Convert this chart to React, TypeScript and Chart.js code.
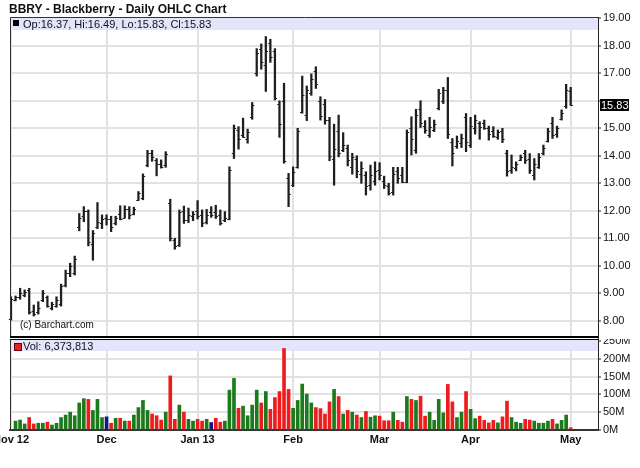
import React, { useEffect, useRef } from "react";
import { Chart, registerables } from "chart.js";

Chart.register(...registerables);

// ---- Data (BBRY daily, Nov 2012 – May 1 2013) ----
const monthLabels = ["Nov 12", "Dec", "Jan 13", "Feb", "Mar", "Apr", "May"];
const monthStartIdx = [0, 21, 41, 62, 81, 101, 123];

const opens = [
  8.05, 8.75, 8.85, 8.95, 9.1, 8.35, 8.3, 8.75, 8.85, 8.45, 8.55, 8.6, 9.3, 9.75, 9.75, 11.4, 11.8, 12.0, 10.8, 11.4,
  11.55, 11.75, 11.7, 11.55, 11.9, 11.75, 12.05, 11.9, 12.4, 12.45, 13.65, 14.1, 13.85, 13.7, 13.65, 12.3, 10.95, 10.75, 12.0, 11.65,
  11.8, 12.0, 11.85, 11.6, 11.95, 11.95, 11.85, 11.65, 11.7, 14.1, 14.95, 14.75, 14.6, 15.4, 17.0, 17.9, 17.3, 18.1, 17.8, 15.9,
  16.0, 13.2, 12.95, 13.6, 15.6, 15.5, 16.3, 17.1, 16.0, 15.9, 15.3, 13.9, 14.9, 14.2, 14.3, 13.6, 13.9, 13.35, 13.3, 12.95,
  13.1, 13.5, 13.1, 12.9, 12.7, 13.45, 13.3, 13.05, 15.0, 14.2, 15.7, 15.1, 14.75, 14.95, 15.75, 16.0, 16.4, 14.5, 14.35, 14.45,
  15.4, 14.4, 15.0, 15.2, 15.2, 15.0, 14.9, 14.7, 14.9, 14.1, 13.5, 13.55, 13.85, 14.1, 13.9, 13.3, 13.6, 14.1, 14.55, 15.2,
  14.8, 15.35, 15.8, 16.37,
];
const highs = [
  8.87, 8.9, 9.18, 9.12, 9.18, 8.57, 8.69, 9.1, 8.9, 8.67, 8.87, 9.33, 9.84, 10.09, 10.35, 11.9, 12.15, 12.03, 11.28, 12.3,
  11.85, 11.85, 11.8, 11.8, 12.18, 12.18, 12.15, 12.13, 12.7, 13.34, 14.2, 14.2, 13.9, 13.85, 14.15, 12.42, 11.0, 12.03, 12.17, 12.1,
  11.97, 12.37, 12.03, 12.05, 12.15, 12.2, 12.03, 11.97, 13.6, 15.12, 15.06, 15.37, 14.97, 15.94, 17.9, 18.07, 18.34, 18.24, 17.9, 16.0,
  16.64, 13.36, 13.6, 15.0, 16.9, 16.54, 16.98, 17.24, 16.15, 16.05, 15.4, 15.15, 15.48, 14.84, 14.39, 14.09, 14.0, 13.78, 13.42, 13.66,
  13.78, 13.75, 13.26, 13.0, 13.58, 13.58, 13.58, 14.94, 15.42, 15.69, 16.0, 15.28, 15.4, 15.3, 16.42, 16.49, 16.85, 14.63, 14.72, 14.79,
  15.54, 15.4, 15.48, 15.24, 15.3, 15.08, 15.06, 14.94, 15.0, 14.2, 14.03, 13.78, 14.03, 14.2, 14.08, 13.9, 14.08, 14.39, 15.0, 15.4,
  15.08, 15.67, 16.6, 16.49,
];
const lows = [
  8.02, 8.72, 8.78, 8.87, 8.24, 8.17, 8.24, 8.69, 8.49, 8.39, 8.49, 8.53, 9.23, 9.6, 9.66, 11.27, 11.6, 10.72, 10.2, 11.35,
  11.35, 11.48, 11.24, 11.48, 11.67, 11.73, 11.7, 11.85, 12.37, 12.4, 13.6, 13.8, 13.27, 13.55, 13.58, 10.9, 10.6, 10.7, 11.54, 11.57,
  11.64, 11.7, 11.42, 11.52, 11.76, 11.72, 11.48, 11.6, 11.67, 13.9, 14.24, 14.67, 14.46, 15.33, 16.9, 17.15, 16.34, 17.4, 16.03, 14.67,
  13.73, 12.15, 12.88, 13.55, 15.55, 15.28, 16.2, 16.45, 15.3, 15.15, 13.82, 12.93, 13.96, 14.15, 13.63, 13.33, 13.2, 13.0, 12.57, 12.75,
  12.93, 13.12, 12.81, 12.57, 12.57, 13.0, 13.02, 13.02, 14.03, 14.09, 15.03, 14.82, 14.67, 14.88, 15.67, 15.9, 14.63, 13.63, 14.27, 14.3,
  14.15, 14.3, 14.79, 14.6, 14.96, 14.57, 14.67, 14.6, 14.48, 13.26, 13.36, 13.45, 13.82, 13.72, 13.36, 13.12, 13.54, 14.03, 14.5, 14.63,
  14.67, 15.3, 15.73, 15.83,
];
const closes = [
  8.8, 8.85, 9.0, 9.05, 8.3, 8.25, 8.45, 9.0, 8.55, 8.6, 8.75, 9.25, 9.75, 10.0, 10.25, 11.75, 12.0, 10.85, 11.2, 11.6,
  11.7, 11.7, 11.4, 11.75, 11.7, 12.05, 11.85, 12.05, 12.65, 13.25, 14.1, 13.95, 13.7, 13.6, 14.05, 11.0, 10.7, 11.95, 11.65, 11.85,
  11.9, 11.8, 11.55, 11.85, 11.85, 11.8, 11.55, 11.75, 13.5, 15.0, 14.6, 14.7, 14.85, 15.85, 17.75, 17.4, 17.8, 17.6, 16.1, 15.15,
  13.8, 12.6, 13.4, 14.9, 16.2, 16.4, 16.8, 16.6, 15.45, 15.3, 14.0, 14.25, 14.1, 14.4, 13.85, 13.95, 13.45, 13.55, 12.9, 13.3,
  13.45, 13.3, 12.95, 12.65, 13.35, 13.2, 13.05, 14.85, 14.6, 15.5, 15.2, 14.95, 15.05, 15.15, 16.3, 16.4, 14.8, 14.1, 14.55, 14.65,
  14.5, 15.1, 15.3, 15.05, 15.0, 14.8, 14.72, 14.85, 14.6, 13.45, 13.6, 13.7, 13.95, 13.85, 13.5, 13.7, 13.95, 14.3, 14.9, 14.75,
  15.0, 15.55, 16.4, 15.83,
];
// volume in millions of shares (first day's bar is not visible in the picture)
const volumes = [
  0, 25, 28, 17, 35, 17, 19, 19, 22, 14, 19, 35, 42, 50, 40, 76, 88, 86, 55, 86,
  35, 37, 19, 33, 33, 25, 25, 42, 63, 83, 55, 45, 40, 28, 50, 152, 30, 70, 50, 30,
  25, 30, 25, 30, 21, 33, 22, 25, 112, 145, 61, 67, 40, 70, 112, 76, 108, 58, 91, 108,
  229, 114, 61, 83, 129, 101, 76, 63, 60, 45, 79, 114, 94, 45, 55, 50, 42, 35, 52, 36,
  40, 39, 26, 26, 50, 27, 22, 94, 86, 83, 95, 39, 50, 27, 86, 48, 128, 79, 35, 50,
  108, 58, 32, 39, 27, 20, 27, 20, 37, 81, 35, 22, 19, 30, 28, 25, 19, 19, 25, 30,
  17, 27, 42, 6.373813,
];
const priceTicks = [8, 9, 10, 11, 12, 13, 14, 15, 16, 17, 18, 19];
const volTicks = [0, 50, 100, 150, 200, 250];

const FONT = "'Liberation Sans', Arial, Helvetica, sans-serif";
const GRID = "#e2e2e2";
const BAND = "#e4e4fa";
const last = closes.length - 1;
const volText = "Vol: " + Math.round(volumes[last] * 1e6).toLocaleString("en-US");
const ohlcText = `Op:${opens[last].toFixed(2)}, Hi:${highs[last].toFixed(2)}, Lo:${lows[last].toFixed(2)}, Cl:${closes[last].toFixed(2)}`;

const volColor = (i: number) => {
  if (i === 0 || closes[i] > closes[i - 1]) return "#1c7a1c";
  if (closes[i] < closes[i - 1]) return "#ee1c1c";
  return "#15157f";
};

const monthTicks = (s: any) => {
  s.ticks = monthStartIdx.map((v) => ({ value: v }));
};

const pricePlugin = {
  id: "pricePanel",
  beforeDatasetsDraw(chart: any) {
    const { ctx, chartArea: a } = chart;
    ctx.save();
    ctx.fillStyle = BAND;
    ctx.fillRect(a.left, a.top, a.right - a.left, 13);
    ctx.restore();
  },
  afterDatasetsDraw(chart: any) {
    const { ctx, chartArea: a } = chart;
    const x = chart.scales.x;
    const y = chart.scales.y;
    ctx.save();
    ctx.strokeStyle = "#1e1e1e";
    ctx.lineWidth = 1;
    for (let i = 0; i < closes.length; i++) {
      const px = x.getPixelForValue(i);
      const yo = Math.round(y.getPixelForValue(opens[i])) + 0.5;
      const yc = Math.round(y.getPixelForValue(closes[i])) + 0.5;
      ctx.beginPath();
      ctx.moveTo(px - 2.2, yo);
      ctx.lineTo(px, yo);
      ctx.moveTo(px, yc);
      ctx.lineTo(px + 2.2, yc);
      ctx.stroke();
    }
    // panel border
    ctx.strokeStyle = "#333";
    ctx.lineWidth = 1;
    ctx.beginPath();
    ctx.moveTo(a.left + 0.5, a.bottom);
    ctx.lineTo(a.left + 0.5, a.top + 0.5);
    ctx.lineTo(a.right, a.top + 0.5);
    ctx.stroke();
    ctx.strokeStyle = "#000";
    ctx.lineWidth = 2;
    ctx.beginPath();
    ctx.moveTo(a.left, a.bottom - 1);
    ctx.lineTo(a.right, a.bottom - 1);
    ctx.stroke();
    ctx.restore();
  },
  afterDraw(chart: any) {
    const { ctx, chartArea: a } = chart;
    const y = chart.scales.y;
    const py = y.getPixelForValue(closes[last]);
    ctx.save();
    ctx.fillStyle = "#000";
    ctx.fillRect(a.right + 2, Math.round(py) - 6, 29, 12);
    ctx.fillStyle = "#fff";
    ctx.font = `11px ${FONT}`;
    ctx.textBaseline = "middle";
    ctx.textAlign = "left";
    ctx.fillText(closes[last].toFixed(2), a.right + 3, Math.round(py) + 0.5);
    ctx.restore();
  },
};

const volPlugin = {
  id: "volPanel",
  beforeDatasetsDraw(chart: any) {
    const { ctx, chartArea: a } = chart;
    ctx.save();
    ctx.fillStyle = BAND;
    ctx.fillRect(a.left, a.top + 1, a.right - a.left, 11);
    ctx.restore();
  },
  afterDatasetsDraw(chart: any) {
    const { ctx, chartArea: a } = chart;
    ctx.save();
    ctx.strokeStyle = "#333";
    ctx.lineWidth = 1;
    ctx.beginPath();
    ctx.moveTo(a.left + 0.5, a.bottom);
    ctx.lineTo(a.left + 0.5, a.top);
    ctx.stroke();
    ctx.strokeStyle = "#000";
    ctx.lineWidth = 2;
    ctx.beginPath();
    ctx.moveTo(a.left, a.top);
    ctx.lineTo(a.right, a.top);
    ctx.stroke();
    ctx.restore();
  },
};

const xBase = {
  type: "linear",
  min: -0.22,
  max: 129,
  offset: false,
  afterBuildTicks: monthTicks,
};

function PriceChart() {
  const ref = useRef<HTMLCanvasElement>(null);
  useEffect(() => {
    const chart = new Chart(ref.current as HTMLCanvasElement, {
      type: "bar",
      data: {
        datasets: [
          {
            data: closes.map((_, i) => ({ x: i, y: [lows[i], highs[i]] })) as any,
            backgroundColor: "#1e1e1e",
            barThickness: 1.6,
          },
        ],
      },
      options: {
        animation: false,
        responsive: false,
        events: [],
        layout: { padding: { left: 10, top: 17, right: 0, bottom: 1 } },
        plugins: { legend: { display: false }, tooltip: { enabled: false } },
        scales: {
          x: {
            ...xBase,
            ticks: { display: false },
            grid: { color: GRID, lineWidth: 2, drawTicks: false, offset: false },
            border: { display: false },
            afterFit: (s: any) => {
              s.height = 0;
              s.paddingLeft = 0;
              s.paddingRight = 0;
            },
          },
          y: {
            position: "right",
            min: 7.37,
            max: 19.05,
            afterBuildTicks: (s: any) => {
              s.ticks = priceTicks.map((v) => ({ value: v }));
            },
            ticks: {
              color: "#111",
              padding: 2,
              font: { family: FONT, size: 11 },
              callback: (v: any) => (Math.abs(Number(v) - closes[last]) < 0.4 ? "" : Number(v).toFixed(2)),
            },
            grid: { color: GRID, lineWidth: 2, tickColor: "#222", tickLength: 3, tickWidth: 1 },
            border: { display: true, color: "#222", width: 1 },
            afterFit: (s: any) => {
              s.width = 42;
              s.paddingTop = 0;
              s.paddingBottom = 0;
            },
          },
        },
      } as any,
      plugins: [pricePlugin],
    });
    return () => chart.destroy();
  }, []);
  return <canvas ref={ref} width={640} height={339} style={{ position: "absolute", left: 0, top: 0 }} />;
}

function VolumeChart() {
  const ref = useRef<HTMLCanvasElement>(null);
  useEffect(() => {
    const chart = new Chart(ref.current as HTMLCanvasElement, {
      type: "bar",
      data: {
        datasets: [
          {
            data: volumes.map((v, i) => ({ x: i, y: v })) as any,
            backgroundColor: volumes.map((_, i) => volColor(i)),
            barThickness: 3,
          },
        ],
      },
      options: {
        animation: false,
        responsive: false,
        events: [],
        layout: { padding: { left: 10, top: 0, right: 0, bottom: 18 } },
        plugins: { legend: { display: false }, tooltip: { enabled: false } },
        scales: {
          x: {
            ...xBase,
            ticks: {
              color: "#111",
              padding: 3,
              maxRotation: 0,
              autoSkip: false,
              font: { family: FONT, size: 11, weight: "bold" },
              callback: (v: any) => monthLabels[monthStartIdx.indexOf(Number(v))] ?? "",
            },
            grid: { color: GRID, lineWidth: 2, drawTicks: false, offset: false },
            border: { display: true, color: "#333", width: 2 },
            afterFit: (s: any) => {
              s.height = 20;
              s.paddingLeft = 0;
              s.paddingRight = 0;
            },
          },
          y: {
            position: "right",
            min: 0,
            max: 255.6,
            afterBuildTicks: (s: any) => {
              s.ticks = volTicks.map((v) => ({ value: v }));
            },
            ticks: {
              color: "#111",
              padding: 2,
              font: { family: FONT, size: 11 },
              callback: (v: any) => `${v}M`,
            },
            grid: { color: GRID, lineWidth: 2, tickColor: "#222", tickLength: 3, tickWidth: 1 },
            border: { display: true, color: "#222", width: 1 },
            afterFit: (s: any) => {
              s.width = 42;
              s.paddingTop = 0;
              s.paddingBottom = 0;
            },
          },
        },
      } as any,
      plugins: [volPlugin],
    });
    return () => chart.destroy();
  }, []);
  return <canvas ref={ref} width={640} height={129} style={{ position: "absolute", left: 0, top: 339 }} />;
}

export default function App() {
  useEffect(() => {
    document.body.style.margin = "0";
  }, []);
  const txt: React.CSSProperties = { position: "absolute", fontFamily: FONT, color: "#111", whiteSpace: "nowrap", lineHeight: 1 };
  return (
    <div style={{ position: "fixed", left: 0, top: 0, width: 640, height: 468, background: "#fff", overflow: "hidden" }}>
      <PriceChart />
      <VolumeChart />
      <div style={{ ...txt, left: 9, top: 3, fontSize: 12, fontWeight: "bold" }}>BBRY - Blackberry - Daily OHLC Chart</div>
      <div style={{ ...txt, left: 13, top: 20, width: 6, height: 6, background: "#000" }} />
      <div style={{ ...txt, left: 23, top: 19, fontSize: 11 }}>{ohlcText}</div>
      <div style={{ ...txt, left: 20, top: 320, fontSize: 10 }}>(c) Barchart.com</div>
      <div style={{ ...txt, left: 14, top: 343, width: 6, height: 6, background: "#ee1c1c", border: "1px solid #600" }} />
      <div style={{ ...txt, left: 23, top: 341, fontSize: 11 }}>{volText}</div>
    </div>
  );
}
